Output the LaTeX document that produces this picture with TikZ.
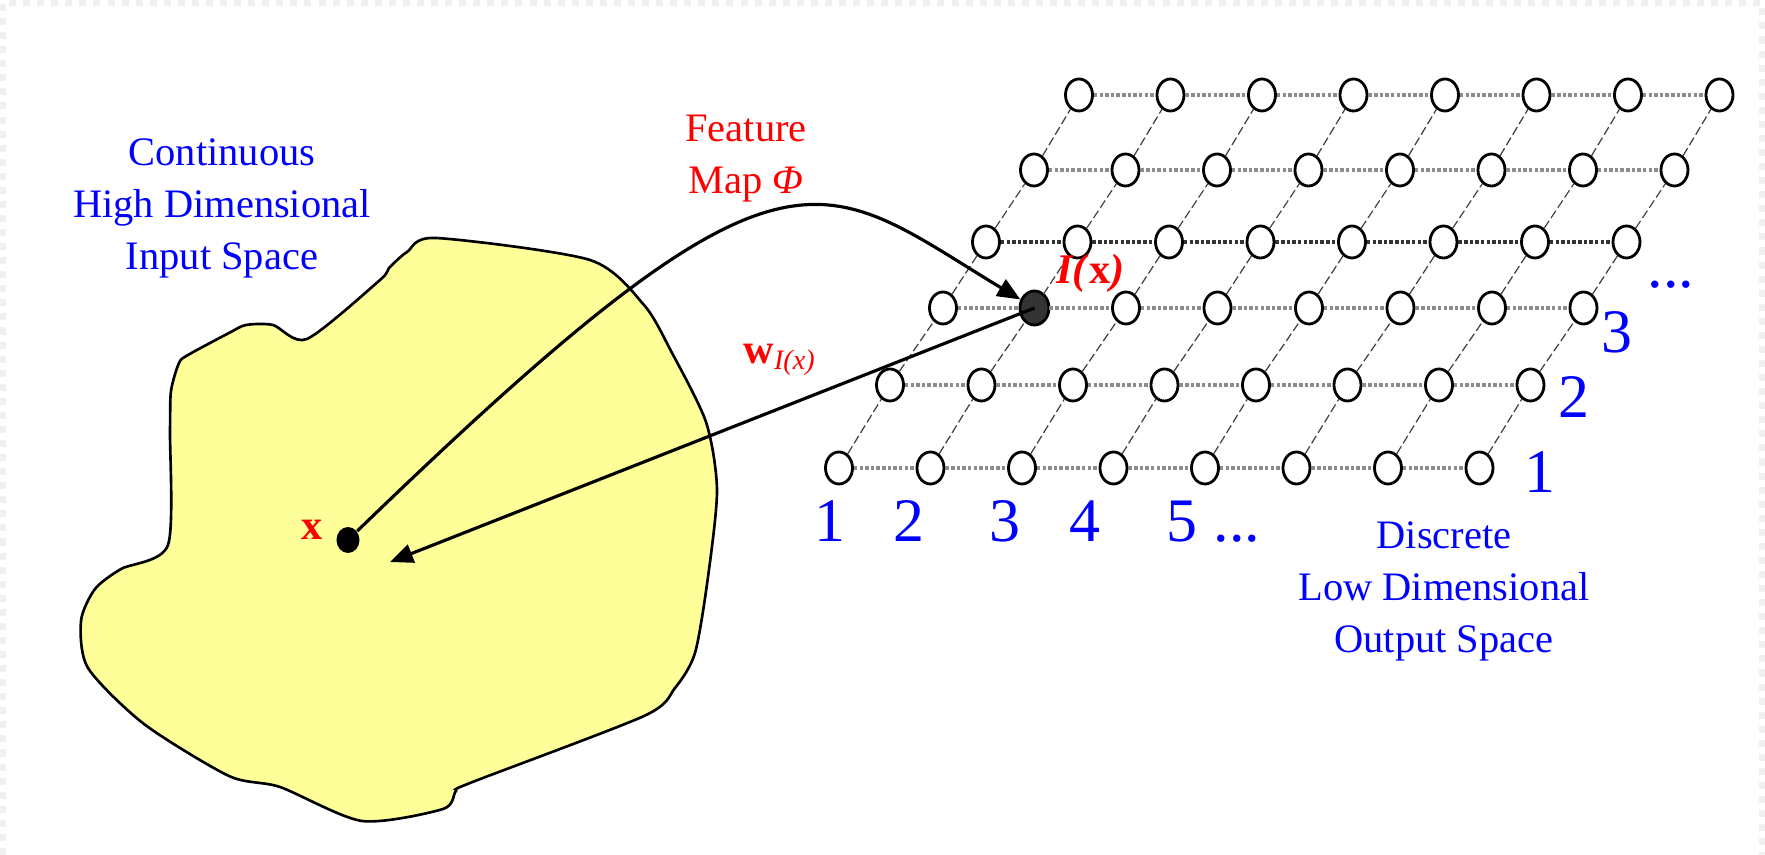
\documentclass[tikz,border=0pt]{standalone}
\usepackage{fontspec}
\setmainfont{Liberation Serif}
\usetikzlibrary{positioning,arrows.meta,shapes.geometric}
\definecolor{sompblue}{RGB}{0,0,255}
\definecolor{somred}{RGB}{255,0,0}
\definecolor{somyellow}{RGB}{255,255,153}
\definecolor{somdark}{RGB}{51,51,51}

\begin{document}
\begin{tikzpicture}[x=0.01cm, y=-0.01cm,
        unit/.style={ellipse, draw, line width=0.8pt, fill=white, minimum width=0.27cm, minimum height=0.32cm, inner sep=0pt},
        win/.style={unit, fill=somdark, minimum width=0.29cm, minimum height=0.34cm},
        rowlink/.style={line width=0.9pt, dash pattern=on 1pt off 0.6pt},
        collink/.style={black!75, line width=0.35pt, dash pattern=on 2.5pt off 1pt},
        arrow/.style={-{Triangle[length=2.3mm, width=1.9mm]}, line width=0.9pt},
        space/.style={text=sompblue, align=center, inner sep=0pt, font=\fontsize{11.5}{14.8}\selectfont},
        redlabel/.style={text=somred, inner sep=0pt, font=\fontsize{12}{14}\selectfont},
        index/.style={text=sompblue, anchor=base, inner sep=0pt, font=\fontsize{17.6}{20}\selectfont}
    ]
    \useasboundingbox (0,0) rectangle (1765,855);
    \draw[gray!12, line width=1.5pt, dash pattern=on 2pt off 2pt] (3,855) |- (1762,3) -- (1762,855);

    % input space
    \filldraw[fill=somyellow, line width=0.75pt] plot[smooth cycle, tension=0.45] coordinates {
        (436,238) (590,260) (644,305) (671,351) (706,422) (717,490) (708,577) (695,653)
        (675,688) (644,716) (470,783) (456,791) (443,809) (362,821) (280,787) (229,776)
        (144,724) (88,668) (81,621) (95,589) (121,569) (168,545) (170,430) (171,391)
        (179,363) (188,355) (229,333) (246,325) (273,325) (307,339) (380,280) (389,268) (407,252)};
    \node[ellipse, fill=black, minimum width=0.23cm, minimum height=0.26cm, inner sep=0pt] (xdot) at (348,540) {};
    \coordinate (xtip) at (390,562);

    % output lattice
    \foreach \rj/\yy/\xx in {1/468/839, 2/385/890, 3/308/943, 4/242/986, 5/170/1034, 6/95/1079}
        \foreach \ci in {1,...,8}
            \node[unit] (n-\ci-\rj) at ({\xx+91.5*(\ci-1)},\yy) {};
    \node[win] (win) at (n-2-3) {};
    \foreach \rj/\tone in {1/45, 2/45, 3/45, 4/80, 5/45, 6/45}
        \foreach \ci [count=\cn from 2] in {1,...,7}
            \draw[rowlink, black!\tone] (n-\ci-\rj) -- (n-\cn-\rj);
    \foreach \ci in {1,...,8}
        \foreach \rj [count=\rn from 2] in {1,...,5}
            \draw[collink] (n-\ci-\rj) -- (n-\ci-\rn);

    \draw[arrow] (xdot) .. controls (790,112) and (816,176) .. (win);
    \draw[arrow] (win.center) -- (xtip);

    \node[space] (inspace) at (222,208) {Continuous\\High Dimensional\\Input Space};
    \node[space] (outspace) at (1444,591) {Discrete\\Low Dimensional\\Output Space};
    \node[space, text=somred] (fmap) at (746,159) {Feature\\Map \textit{Φ}};
    \node[redlabel, left=0.12cm of xdot, yshift=0.1cm] (xlab) {\textbf{x}};
    \node[redlabel] (wlab) at (780,360) {\textbf{w}\textsubscript{\textit{I(x)}}};
    \node[redlabel, above right=0.02cm and 0.1cm of win] (ilab) {\textbf{\textit{I(}x\textit{)}}};

    \node[index] (c1) at (830,542) {1};
    \node[index] (c2) at (909,542) {2};
    \node[index] (c3) at (1005,542) {3};
    \node[index] (c4) at (1085,542) {4};
    \node[index] (c5) at (1182,542) {5};
    \node[index] (cdots) at (1237,542) {...};
    \node[index] (r1) at (1540,493) {1};
    \node[index] (r2) at (1574,418) {2};
    \node[index] (r3) at (1617,353) {3};
    \node[index] (rdots) at (1671,288) {...};
\end{tikzpicture}
\end{document}
